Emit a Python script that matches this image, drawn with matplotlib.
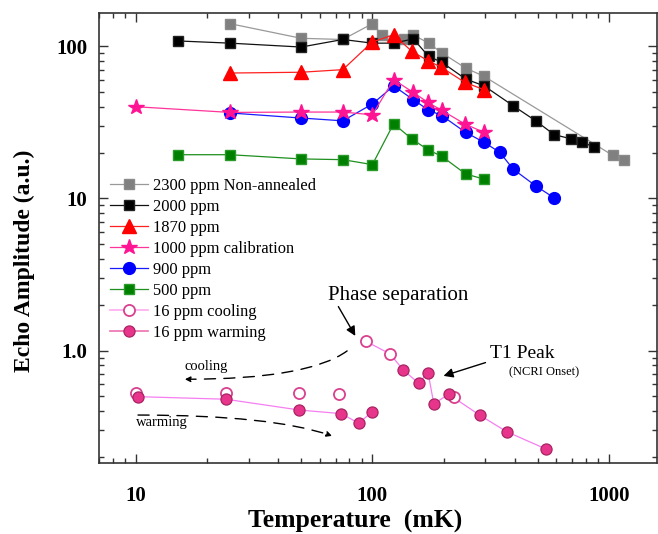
import matplotlib
matplotlib.use("Agg")
import matplotlib.pyplot as plt
from matplotlib.lines import Line2D
from matplotlib.ticker import FixedLocator, FixedFormatter, LogLocator, NullFormatter

plt.rcParams['font.family'] = ['Liberation Serif', 'DejaVu Serif']

# ---------------- data ----------------
T_2300 = [25, 50, 75, 100, 110, 136, 149, 173, 197, 248, 297, 1040, 1160]
A_2300 = [141, 113, 111, 141, 119, 112, 119, 105, 90.5, 72, 63.5, 19.2, 17.8]

T_2000 = [15, 25, 50, 75, 100, 123, 149, 173, 197, 248, 297, 394, 491, 587, 690, 774, 862]
A_2000 = [108.6, 105, 99, 111, 105, 105, 112, 86, 78.5, 61, 55, 40.7, 32.4, 26.3, 24.7, 23.5, 21.8]

T_1870 = [25, 50, 75, 100, 123, 147, 172, 196, 246, 297]
A_1870 = [66.8, 67.6, 70.3, 107, 119, 92.7, 80.5, 72.8, 58, 51.9]

T_1000 = [10, 25, 50, 75, 100, 123, 149, 172, 197, 246, 297]
A_1000 = [40.1, 36.8, 37, 37, 35.5, 60.4, 49.8, 42.8, 37.9, 30.9, 27.2]

T_900 = [25, 50, 75, 100, 123, 149, 172, 197, 248, 297, 346, 394, 491, 587]
A_900 = [36.5, 33.8, 32.4, 41.8, 55, 44.6, 38.3, 35, 27.2, 23.4, 20.1, 15.6, 12.1, 10.1]

T_500 = [15, 25, 50, 75, 100, 123, 147, 172, 197, 248, 297]
A_500 = [19.4, 19.4, 18.2, 18, 16.7, 31, 24.6, 20.9, 18.9, 14.5, 13.4]

T_cool = [10, 24, 49, 72, 94, 119, 222]
A_cool = [0.525, 0.53, 0.53, 0.517, 1.15, 0.95, 0.498]

T_warm = [10.2, 24, 49, 74, 87.5, 100, 135, 157, 172, 182, 210, 284, 370, 544]
A_warm = [0.498, 0.479, 0.407, 0.385, 0.333, 0.397, 0.746, 0.61, 0.717, 0.446, 0.517, 0.377, 0.293, 0.225]

labels = ["2300 ppm Non-annealed", "2000 ppm", "1870 ppm", "1000 ppm calibration",
          "900 ppm", "500 ppm", "16 ppm cooling", "16 ppm warming"]

xtick_vals = [10, 100, 1000]
xtick_labels = ["10", "100", "1000"]
ytick_vals = [1, 10, 100]
ytick_labels = ["1.0", "10", "100"]

# ---------------- figure ----------------
fig = plt.figure(figsize=(6.58, 5.34), dpi=100)
ax = fig.add_axes([0.151, 0.1324, 0.8475, 0.8427])
ax.set_xscale('log')
ax.set_yscale('log')

lw = 0.9
h2300, = ax.plot(T_2300, A_2300, color='#999999', lw=lw, marker='s', ms=7.5,
                 mfc='#808080', mec='#8a8a8a', label=labels[0], zorder=2)
h2000, = ax.plot(T_2000, A_2000, color='#111111', lw=lw, marker='s', ms=7.5,
                 mfc='black', mec='#222222', label=labels[1], zorder=3)
h1870, = ax.plot(T_1870, A_1870, color='#ff2020', lw=lw, marker='^', ms=9.5,
                 mfc='#ff0000', mec='#ff0000', label=labels[2], zorder=4)
h900, = ax.plot(T_900, A_900, color='#1a1aff', lw=lw, marker='o', ms=8.5,
                mfc='#0000ff', mec='#0000ff', label=labels[4], zorder=4)
h1000, = ax.plot(T_1000, A_1000, color='#ff3399', lw=lw, marker='*', ms=11.5,
                 mfc='#ff1493', mec='#ff1493', label=labels[3], zorder=5)
h500, = ax.plot(T_500, A_500, color='#1f8f1f', lw=lw, marker='s', ms=7.5,
                mfc='#008000', mec='#2a9a2a', label=labels[5], zorder=4)

# 16 ppm connecting lines
low_T = [t for t in T_warm if t <= 100]
low_A = [a for t, a in zip(T_warm, A_warm) if t <= 100]
hi_pairs = [(t, a) for t, a in zip(T_cool, A_cool) if 80 < t < 200] + \
           [(t, a) for t, a in zip(T_warm, A_warm) if t > 120]
hi_pairs.sort()
line16 = '#f57ff0'
ax.plot(low_T, low_A, color=line16, lw=0.9, zorder=2)
ax.plot([p[0] for p in hi_pairs], [p[1] for p in hi_pairs], color=line16, lw=0.9, zorder=2)

ax.plot(T_cool, A_cool, ls='none', marker='o', ms=8, mfc='white', mec='#d9418f',
        mew=1.3, zorder=5)
ax.plot(T_warm, A_warm, ls='none', marker='o', ms=8, mfc='#e8358c', mec='#a82462',
        mew=0.9, zorder=6)

hcool = Line2D([], [], color='#ffaaf0', lw=1.2, marker='o', ms=8, mfc='white',
               mec='#d9418f', mew=1.3)
hwarm = Line2D([], [], color='#ee6fb0', lw=1.2, marker='o', ms=8, mfc='#e8358c',
               mec='#a82462', mew=0.9)

ax.set_xlim(7.0, 1600)
ax.set_ylim(0.1816, 165)

# ticks
for axis, vals, labs in ((ax.xaxis, xtick_vals, xtick_labels), (ax.yaxis, ytick_vals, ytick_labels)):
    axis.set_major_locator(FixedLocator(vals))
    axis.set_major_formatter(FixedFormatter(labs))
    axis.set_minor_locator(LogLocator(base=10, subs=range(2, 10)))
    axis.set_minor_formatter(NullFormatter())
ax.tick_params(which='both', direction='in', top=True, right=True, color='#333333', width=1.0)
ax.tick_params(which='major', length=6.5)
ax.tick_params(which='minor', length=3.4)
ax.tick_params(axis='x', which='major', pad=16)
ax.tick_params(axis='y', which='major', pad=8.5)
for lab in ax.get_xticklabels() + ax.get_yticklabels():
    lab.set_fontsize(15)
    lab.set_fontweight('bold')
for s in ax.spines.values():
    s.set_color('#333333')
    s.set_linewidth(1.2)

ax.set_xlabel("Temperature  (mK)", fontsize=18.5, fontweight='bold', va='center')
ax.xaxis.set_label_coords(0.4585, -0.13)
ax.set_ylabel("Echo Amplitude (a.u.)", fontsize=17, fontweight='bold', va='center')
ax.yaxis.set_label_coords(-0.135, 0.4496)

# legend
leg = ax.legend([h2300, h2000, h1870, h1000, h900, h500, hcool, hwarm], labels,
                loc='upper left', bbox_to_anchor=(0.0192, 0.634), frameon=False,
                fontsize=11.9, handlelength=2.3, handletextpad=0.28, labelspacing=0.3,
                borderpad=0, borderaxespad=0)

# annotations
ax.annotate("", xy=(84.7, 1.249), xytext=(71.8, 1.947),
            arrowprops=dict(arrowstyle='-|>', color='black', lw=1.0,
                            mutation_scale=14, shrinkA=0, shrinkB=0))
ax.text(128, 2.32, "Phase separation", fontsize=15, ha='center', va='center')
ax.annotate("", xy=(200, 0.682), xytext=(301, 0.834),
            arrowprops=dict(arrowstyle='-|>', color='black', lw=1.0,
                            mutation_scale=14, shrinkA=0, shrinkB=0))
ax.text(313, 0.951, "T1 Peak", fontsize=14, ha='left', va='center')
ax.text(377, 0.717, "(NCRI Onset)", fontsize=9, ha='left', va='center')
ax.text(16, 0.785, "cooling", fontsize=10.5, ha='left', va='center')
ax.text(9.97, 0.335, "warming", fontsize=10.5, ha='left', va='center')

ax.annotate("", xy=(16.1, 0.648), xytext=(78.2, 0.995),
            arrowprops=dict(arrowstyle='-|>', color='black', lw=1.0, ls=(0, (8, 6)),
                            mutation_scale=8, shrinkA=0, shrinkB=0,
                            connectionstyle='angle3,angleA=36,angleB=0'))
ax.annotate("", xy=(67.5, 0.275), xytext=(10.2, 0.377),
            arrowprops=dict(arrowstyle='-|>', color='black', lw=1.0, ls=(0, (8, 6)),
                            mutation_scale=8, shrinkA=0, shrinkB=0,
                            connectionstyle='angle3,angleA=0,angleB=-19'))

fig.savefig("out.png", dpi=100)
